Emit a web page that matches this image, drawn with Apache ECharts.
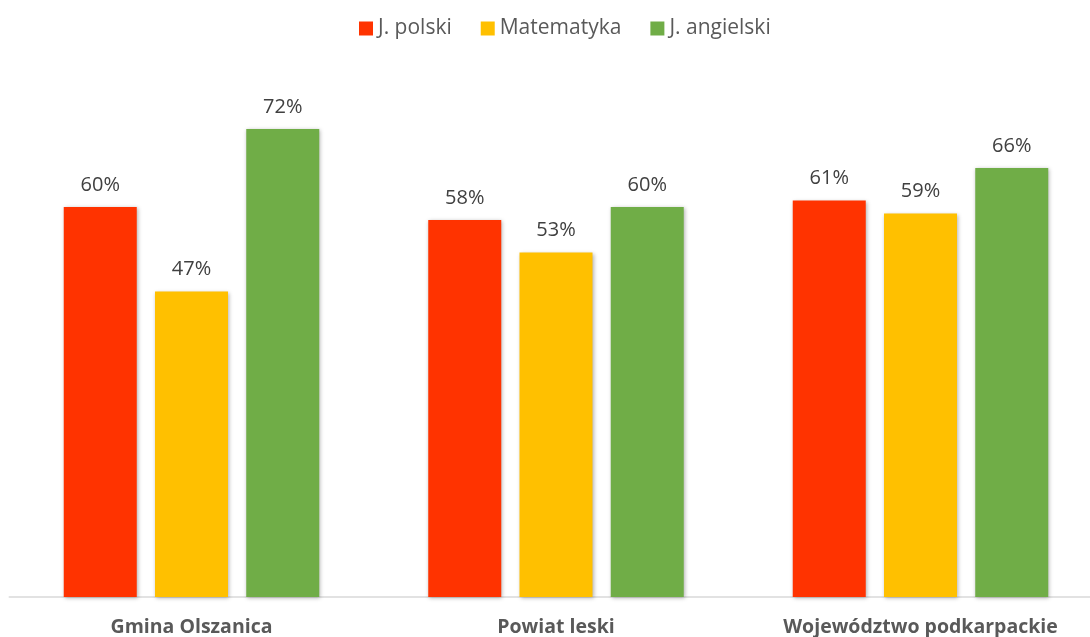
<!DOCTYPE html>
<html>
<head>
<meta charset="utf-8">
<script src="https://cdn.jsdelivr.net/npm/echarts@6/dist/echarts.min.js"></script>
<style>
  html, body { margin: 0; padding: 0; background: #fff; }
  #chart { width: 1090px; height: 637px; }
</style>
</head>
<body>
<div id="chart"></div>
<script>
const categories = ['Gmina Olszanica', 'Powiat leski', 'Województwo podkarpackie']
const seriesNames = ['J. polski', 'Matematyka', 'J. angielski']
const polski = [60, 58, 61]
const matematyka = [47, 53, 59]
const angielski = [72, 60, 66]
const colors = ['#ff3300', '#ffc000', '#70ad47']

const chart = echarts.init(document.getElementById('chart'))

const font = '"Open Sans", sans-serif'

function makeSeries(name, data, color) {
  return {
    name,
    type: 'bar',
    data,
    barWidth: 73,
    barGap: '25%',
    itemStyle: {
      color,
      shadowBlur: 4,
      shadowColor: 'rgba(0,0,0,0.3)',
      shadowOffsetX: 1,
      shadowOffsetY: 1
    },
    label: {
      show: true,
      position: 'top',
      distance: 12,
      formatter: '{c}%',
      color: '#404040',
      fontSize: 20,
      fontFamily: font
    }
  }
}

const option = {
  animation: false,
  color: colors,
  legend: {
    top: 13,
    left: 354,
    itemWidth: 14,
    itemHeight: 14,
    itemGap: 29,
    icon: 'rect',
    textStyle: { color: '#595959', fontSize: 21, fontFamily: font }
  },
  grid: {
    left: 9.25,
    width: 1093.5,
    top: 77,
    bottom: 40,
    outerBoundsMode: 'none',
    containLabel: false
  },
  xAxis: {
    type: 'category',
    data: categories,
    axisLine: { lineStyle: { color: '#d9d9d9', width: 1.5 } },
    axisTick: { show: false },
    axisLabel: {
      color: '#595959',
      fontSize: 19.5,
      fontWeight: 'bold',
      fontFamily: font,
      margin: 20
    }
  },
  yAxis: {
    type: 'value',
    min: 0,
    max: 80,
    show: false,
    splitLine: { show: false }
  },
  series: [
    makeSeries(seriesNames[0], polski, colors[0]),
    makeSeries(seriesNames[1], matematyka, colors[1]),
    makeSeries(seriesNames[2], angielski, colors[2])
  ]
}

chart.setOption(option)
</script>
</body>
</html>
